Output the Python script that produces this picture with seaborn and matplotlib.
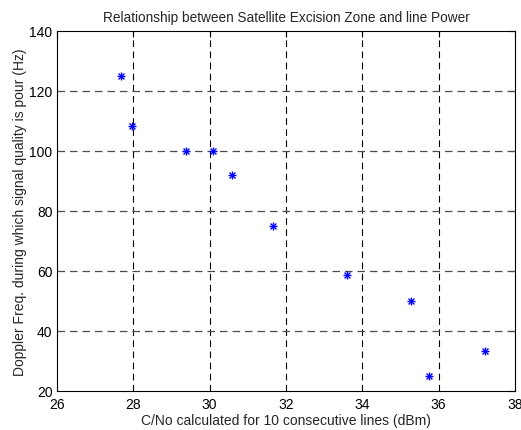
import seaborn as sns
import matplotlib.pyplot as plt
import pandas as pd

# values
cn0 = [27.68, 27.96, 29.39, 30.10, 30.58, 31.65, 33.59, 35.27, 35.75, 37.22]
doppler = [125, 108.3, 100, 100, 92, 75, 58.5, 50, 25, 33.3]

xticks = [26, 28, 30, 32, 34, 36, 38]
yticks = [20, 40, 60, 80, 100, 120, 140]

df = pd.DataFrame({'cn0': cn0, 'doppler': doppler})

sns.set_theme(style="white")
plt.rcParams['font.family'] = ['Liberation Sans', 'DejaVu Sans']
plt.rcParams['font.size'] = 10

fig = plt.figure(figsize=(5.21, 4.31), dpi=100)
ax = fig.add_axes([0.109, 0.0905, 0.8795, 0.8355])

# matlab style asterisk = plus + cross
sns.scatterplot(data=df, x='cn0', y='doppler', marker='+', s=40, color='blue',
                linewidth=1.0, ax=ax, zorder=3)
sns.scatterplot(data=df, x='cn0', y='doppler', marker='x', s=18, color='blue',
                linewidth=1.0, ax=ax, zorder=3)

ax.set_xlim(26, 38)
ax.set_ylim(20, 140)
ax.set_xticks(xticks)
ax.set_yticks(yticks)
ax.tick_params(direction='in', length=4, width=0.8, top=True, right=True,
               labelsize=10, colors='black')
ax.tick_params(axis='x', pad=4)
ax.tick_params(axis='y', pad=3)

for v in xticks[1:-1]:
    ax.axvline(v, color='black', lw=0.8, ls=(0, (6, 4)), zorder=1)
for v in yticks[1:-1]:
    ax.axhline(v, color='0.3', lw=0.9, ls=(0, (6, 4)), zorder=1)

for s in ax.spines.values():
    s.set_color('black')
    s.set_linewidth(0.8)

ax.set_xlabel('C/No calculated for 10 consecutive lines (dBm)', fontsize=10, labelpad=2)
ax.set_ylabel('Doppler Freq. during which signal quality is pour (Hz)', fontsize=10, labelpad=1.5)
ax.set_title('Relationship between Satellite Excision Zone and line Power', fontsize=9.8, pad=7)

fig.savefig('out.png', dpi=100)
